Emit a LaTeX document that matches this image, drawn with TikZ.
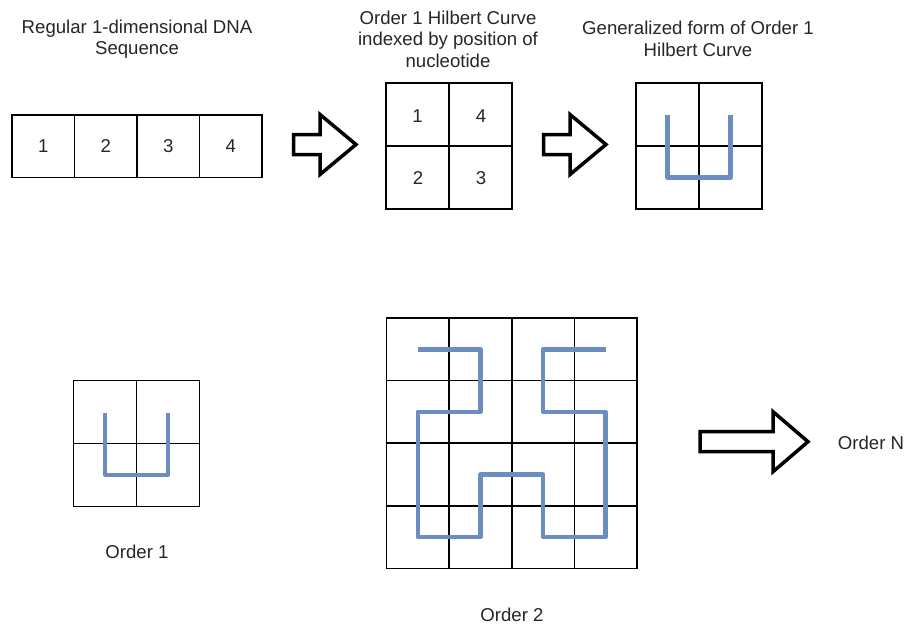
\documentclass[tikz,border=0pt]{standalone}
\usepackage{fontspec}
\setmainfont{Liberation Sans}
\definecolor{hblue}{HTML}{6C8EBF}
\definecolor{txt}{HTML}{262626}
\begin{document}
\begin{tikzpicture}[x=1pt,y=-1pt,
  lbl/.style={font=\fontsize{18.6}{21.5}\selectfont, text=txt, align=center, inner sep=0pt},
  gridline/.style={draw=black, line width=1.6pt},
  blockarrow/.style={draw=black, line width=3.5pt, line join=miter, fill=white},
  hil/.style={draw=hblue, line width=4.5pt, line join=round, line cap=butt}]
\useasboundingbox (0,0) rectangle (906,626);

% ---- titles
\node[lbl] (t1) at (137,39) {Regular 1-dimensional DNA\\Sequence};
\node[lbl] (t2) at (448,39) {Order 1 Hilbert Curve\\indexed by position of\\nucleotide};
\node[lbl] (t3) at (698,39) {Generalized form of Order 1\\Hilbert Curve};

% ---- 1-D strip
\draw[gridline] (12,115) rectangle (262,177.5);
\foreach \x in {74.5,137,199.5} \draw[gridline] (\x,115) -- (\x,177.5);
\node[lbl] (s1) at (43.25,146.5) {1};
\node[lbl] (s2) at (105.75,146.5) {2};
\node[lbl] (s3) at (168.25,146.5) {3};
\node[lbl] (s4) at (230.75,146.5) {4};

% ---- arrow 1
\draw[blockarrow] (293.5,134.5) -- (320,134.5) -- (320,114.5) -- (356,144.5)
  -- (320,174.5) -- (320,154.5) -- (293.5,154.5) -- cycle;

% ---- indexed order-1 grid
\draw[gridline] (386,83) rectangle (512,209);
\draw[gridline] (449,83) -- (449,209);
\draw[gridline] (386,146) -- (512,146);
\node[lbl] (g1) at (417.5,116) {1};
\node[lbl] (g4) at (481,116) {4};
\node[lbl] (g2) at (418,178.5) {2};
\node[lbl] (g3) at (481,178.5) {3};

% ---- arrow 2
\draw[blockarrow] (543.5,134.5) -- (570,134.5) -- (570,114.5) -- (606,144.5)
  -- (570,174.5) -- (570,154.5) -- (543.5,154.5) -- cycle;

% ---- generalized order-1 grid
\draw[gridline] (636,83) rectangle (762,209);
\draw[gridline] (699,83) -- (699,209);
\draw[gridline] (636,146) -- (762,146);
\draw[hil] (667.5,115.5) -- (667.5,177.5) -- (730.5,177.5) -- (730.5,115.5);

% ---- order 1 (bottom left)
\draw[gridline] (73.5,380.5) rectangle (199.5,506.5);
\draw[gridline] (136.5,380.5) -- (136.5,506.5);
\draw[gridline] (73.5,443.5) -- (199.5,443.5);
\draw[hil] (105,413) -- (105,475) -- (168,475) -- (168,413);
\node[lbl] (o1) at (137,552) {Order 1};

% ---- order 2
\draw[gridline] (386.5,318) rectangle (637,568.5);
\foreach \i in {1,2,3} {
  \draw[gridline] (386.5+62.625*\i,318) -- (386.5+62.625*\i,568.5);
  \draw[gridline] (386.5,318+62.625*\i) -- (637,318+62.625*\i);
}
\draw[hil] (417.8,349.3) -- (480.4,349.3) -- (480.4,411.9) -- (417.8,411.9)
  -- (417.8,537.1) -- (480.4,537.1) -- (480.4,474.5) -- (543,474.5)
  -- (543,537.1) -- (605.6,537.1) -- (605.6,411.9) -- (543,411.9)
  -- (543,349.3) -- (605.6,349.3);
\node[lbl] (o2) at (512,615) {Order 2};

% ---- arrow 3
\draw[blockarrow] (700,431.7) -- (773,431.7) -- (773,411.7) -- (808,441.7)
  -- (773,471.7) -- (773,451.7) -- (700,451.7) -- cycle;
\node[lbl] (oN) at (871,443) {Order N};
\end{tikzpicture}
\end{document}
